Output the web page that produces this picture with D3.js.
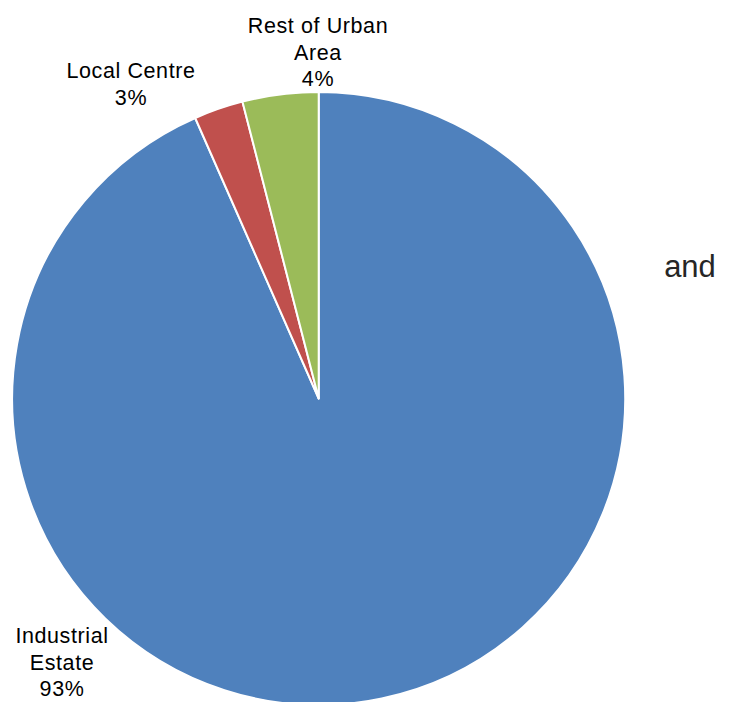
<!DOCTYPE html>
<html>
<head>
<meta charset="utf-8">
<script src="https://cdn.jsdelivr.net/npm/d3@7"></script>
<style>
  html, body { margin: 0; padding: 0; background: #fff; }
  svg { display: block; }
  text { font-family: "Liberation Sans", Arial, sans-serif; fill: #000; }
</style>
</head>
<body>
<svg id="chart" width="733" height="702"></svg>
<script>
const categories = ["Industrial Estate", "Local Centre", "Rest of Urban Area"];
const values = [93.4, 2.6, 4.0];
const percentLabels = ["93%", "3%", "4%"];
const labelLines = [["Industrial", "Estate", "93%"], ["Local Centre", "3%"], ["Rest of Urban", "Area", "4%"]];
const colors = ["#4F81BD", "#C0504D", "#9BBB59"];

const W = 733, H = 702;
const cx = 318.7, cy = 398.5, R = 306.5;
const labelAnchors = [[62, 643], [131, 78], [318, 33]];

const svg = d3.select("#chart");
const g = svg.append("g").attr("transform", `translate(${cx},${cy})`);

const pie = d3.pie().sort(null).value(d => d)(values);
const arc = d3.arc().innerRadius(0).outerRadius(R);
const color = d3.scaleOrdinal().domain(categories).range(colors);

g.selectAll("path").data(pie).enter().append("path")
  .attr("d", arc)
  .attr("fill", (d, i) => color(categories[i]))
  .attr("stroke", "#fff")
  .attr("stroke-width", 2)
  .attr("stroke-linejoin", "round");

const labels = svg.append("g");
labelLines.forEach((lines, i) => {
  const [x, yb] = labelAnchors[i];
  const t = labels.append("text")
    .attr("text-anchor", "middle")
    .attr("font-size", 21.5)
    .attr("letter-spacing", "0.6px");
  lines.forEach((ln, j) => {
    t.append("tspan").attr("x", x).attr("y", yb + j * 26.5).text(ln);
  });
});

svg.append("text")
  .attr("x", 690).attr("y", 277)
  .attr("text-anchor", "middle")
  .attr("font-size", 31)
  .style("fill", "#262626")
  .text("and");
</script>
</body>
</html>
